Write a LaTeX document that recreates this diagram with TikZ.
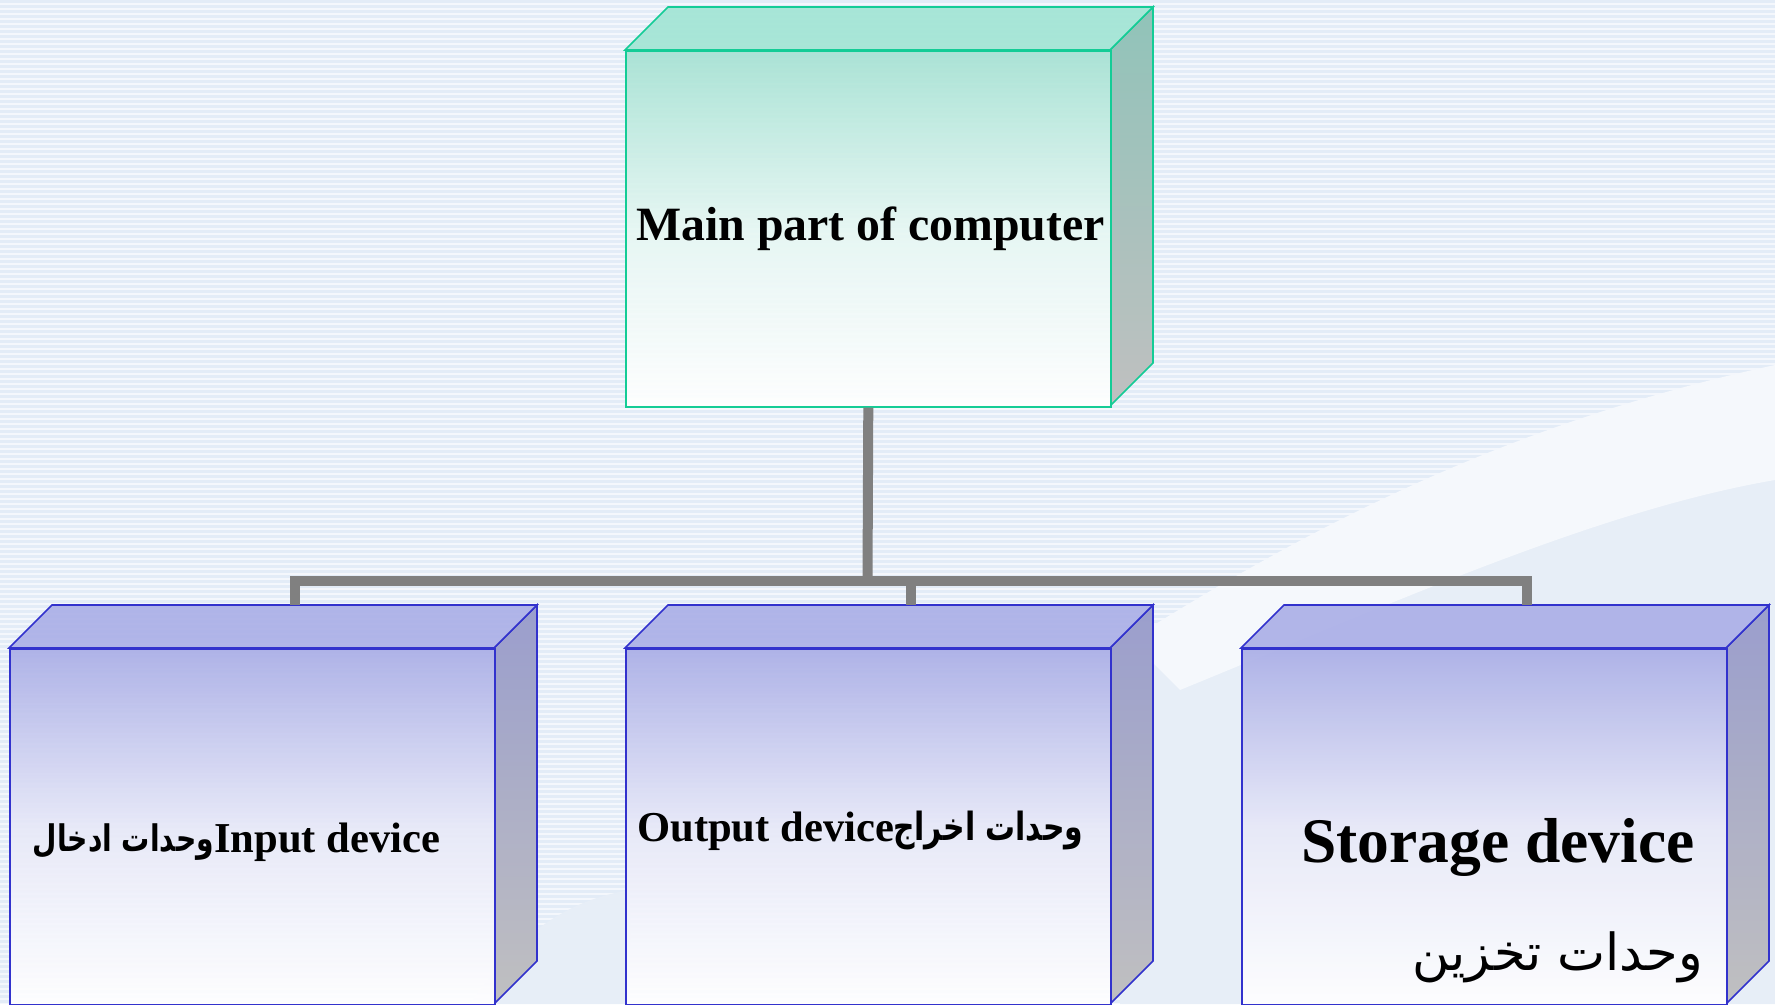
\documentclass[tikz,border=0pt]{standalone}
\usepackage{fontspec}
\usepackage{graphicx}
\setmainfont{Liberation Serif}
\newfontfamily\arabicfont[Script=Arabic]{DejaVu Sans}
\TeXXeTstate=1
\usetikzlibrary{calc}

\definecolor{bgbase}{RGB}{244,247,252}
\definecolor{bgstripe}{RGB}{227,236,247}
\definecolor{bgblob}{RGB}{231,238,247}
\definecolor{bglight}{RGB}{245,248,252}
\definecolor{tealedge}{RGB}{20,204,150}
\definecolor{tealtopc}{RGB}{163,229,213}
\definecolor{tealfront}{RGB}{166,226,211}
\definecolor{tealside}{RGB}{152,205,195}
\definecolor{bluedge}{RGB}{50,50,205}
\definecolor{blutopc}{RGB}{172,176,231}
\definecolor{blufront}{RGB}{170,174,230}
\definecolor{bluside}{RGB}{162,166,216}
\definecolor{sidegray}{RGB}{202,202,202}
\definecolor{conngray}{RGB}{128,128,128}

\tikzset{
  frontbox/.style={minimum width=485pt, minimum height=356pt, inner sep=0pt, line width=1.6pt},
  facebox/.style={line width=1.6pt, line join=miter},
  conn/.style={draw=conngray, line width=10pt, line join=miter, line cap=butt},
  lbl/.style={inner sep=0pt, text=black},
}

% #1 name, #2 x of front left, #3 y of front top, #4 colour prefix
\newcommand{\mycube}[4]{%
  \fill[top color=#4side, bottom color=sidegray, fill opacity=0.95]
    (#2+485,#3) -- (#2+528,#3-43) -- (#2+528,#3+313) -- (#2+485,#3+356) -- cycle;
  \draw[facebox, draw=#4edge]
    (#2+485,#3) -- (#2+528,#3-43) -- (#2+528,#3+313) -- (#2+485,#3+356);
  \filldraw[facebox, fill=#4topc, fill opacity=0.93, draw=#4edge]
    (#2,#3) -- (#2+43,#3-43) -- (#2+528,#3-43) -- (#2+485,#3) -- cycle;
  \node[frontbox, draw=#4edge, top color=#4front, bottom color=white,
        middle color=#4front!28!white, fill opacity=0.92, anchor=north west] (#1) at (#2,#3) {};
  \coordinate (#1T) at (#2+285.5,#3-43);
}

\begin{document}
\begin{tikzpicture}[x=1pt,y=-1pt]
\useasboundingbox (0,0) rectangle (1775,1004);
% background
\fill[bgbase] (0,0) rectangle (1775,1004);
\foreach \yy in {0,5,...,1000} \fill[bgstripe] (0,\yy) rectangle (1775,\yy+2.5);
% faint swoosh
\fill[bgblob] (1120,660) .. controls (1300,560) and (1500,470) .. (1775,420)
   -- (1775,1004) -- (1120,1004) -- cycle;
\fill[bglight] (1130,640) .. controls (1320,520) and (1520,420) .. (1775,365)
   -- (1775,480) .. controls (1600,510) and (1400,600) .. (1180,690) -- cycle;
\fill[bgblob] (470,1004) .. controls (520,930) and (570,900) .. (630,890) -- (630,1004) -- cycle;

% boxes
\mycube{main}{625}{50}{teal}

\coordinate (junction) at (867.5,581);
\draw[conn] (main.south) -- (junction);

\mycube{inp}{9}{648}{blu}
\mycube{outp}{625}{648}{blu}
\mycube{stor}{1241}{648}{blu}

\draw[conn] (inpT) -- (inpT |- junction) -- (storT |- junction) -- (storT);
\draw[conn] (outpT |- junction) -- (outpT);

% labels
\node[lbl, anchor=base west] (mainlbl) at (636,240)
  {\fontsize{47.8}{56}\selectfont\bfseries Main part of computer};

\node[lbl, anchor=base west] (inlbl) at (214,852)
  {\fontsize{42.6}{50}\selectfont\bfseries Input device};
\node[lbl, anchor=base east] (inar) at (214,851)
  {\scalebox{1}[1.3]{\resizebox{181pt}{!}{\arabicfont\bfseries\beginR وحدات ادخال\endR}}};

\node[lbl, anchor=base west] (outlbl) at (637,841)
  {\fontsize{42.6}{50}\selectfont\bfseries Output device};
\node[lbl, anchor=base west] (outar) at (893,840)
  {\scalebox{1}[1.3]{\resizebox{190pt}{!}{\arabicfont\bfseries\beginR وحدات اخراج\endR}}};

\node[lbl, anchor=base west] (stlbl) at (1301,862)
  {\fontsize{63.5}{72}\selectfont\bfseries Storage device};
\node[lbl, anchor=base east] (star) at (1703,970)
  {\resizebox{290pt}{!}{\arabicfont\beginR وحدات تخزين\endR}};
\end{tikzpicture}
\end{document}
